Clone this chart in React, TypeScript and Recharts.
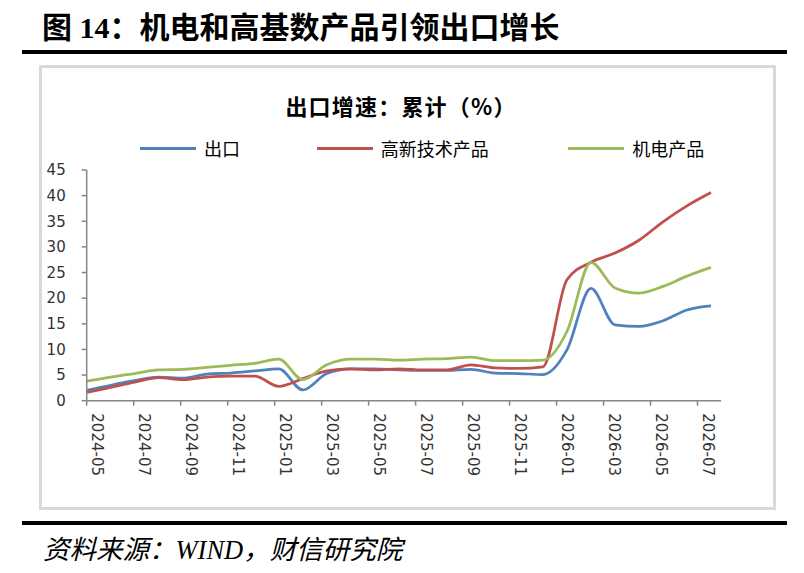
import React from 'react';
import { LineChart, Line, XAxis, YAxis, Legend } from 'recharts';

const months = [
  '2024-05', '2024-06', '2024-07', '2024-08', '2024-09', '2024-10', '2024-11', '2024-12',
  '2025-01', '2025-02', '2025-03', '2025-04', '2025-05', '2025-06', '2025-07', '2025-08',
  '2025-09', '2025-10', '2025-11', '2025-12', '2026-01', '2026-02', '2026-03', '2026-04',
  '2026-05', '2026-06', '2026-07',
];

const tickLabels = [
  '2024-05', '2024-07', '2024-09', '2024-11', '2025-01', '2025-03', '2025-05',
  '2025-07', '2025-09', '2025-11', '2026-01', '2026-03', '2026-05', '2026-07',
];
const tickIndex = [0, 2, 4, 6, 8, 10, 12, 14, 16, 18, 20, 22, 24, 26];

const yTicks = [0, 5, 10, 15, 20, 25, 30, 35, 40, 45];

// 出口
const exportsTotal = [2.0, 3.0, 3.9, 4.6, 4.4, 5.2, 5.4, 5.8, 6.2, 2.1, 5.3, 6.2, 6.2, 6.0, 5.9, 5.9, 6.1, 5.4, 5.3, 5.1, 9.9, 21.9, 14.8, 14.5, 15.6, 17.7, 18.5];
// 高新技术产品
const highTech = [1.6, 2.6, 3.6, 4.5, 4.1, 4.6, 4.8, 4.8, 2.8, 4.3, 5.8, 6.2, 6.0, 6.2, 6.0, 6.0, 7.0, 6.4, 6.3, 6.6, 23.6, 27.0, 28.8, 31.3, 34.9, 38.0, 40.6];
// 机电产品
const mechElec = [3.8, 4.6, 5.3, 6.0, 6.1, 6.5, 6.9, 7.3, 8.1, 4.1, 7.0, 8.1, 8.1, 7.9, 8.1, 8.2, 8.5, 7.8, 7.8, 7.9, 13.5, 27.0, 22.0, 21.0, 22.3, 24.3, 26.0];

const seriesNames = ['出口', '高新技术产品', '机电产品'];
const seriesColors = ['#4F81BD', '#C0504D', '#9BBB59'];
const legendLeft = [140, 316.7, 568.3];

const data = months.map((m, i) => ({
  idx: i,
  month: m,
  exp: exportsTotal[i],
  hi: highTech[i],
  me: mechElec[i],
}));

const axisFont = "'DejaVu Sans', Verdana, sans-serif";
const cjkSans = "'Noto Sans CJK SC', 'Noto Sans', sans-serif";

const XTick = (props: any) => {
  const { x, y, payload } = props;
  const k = tickIndex.indexOf(payload.value);
  const label = k >= 0 ? tickLabels[k] : '';
  return (
    <g transform={`translate(${x},${y})`}>
      <text
        transform="rotate(90)"
        x={7.6}
        y={-5}
        textAnchor="start"
        fontFamily={axisFont}
        fontSize={15}
        fill="#333"
      >
        {label}
      </text>
    </g>
  );
};

const LegendContent = (props: any) => {
  const payload = props.payload || [];
  return (
    <div style={{ position: 'relative', width: 804, height: 30 }}>
      {payload.map((p: any) => {
        const i = seriesNames.indexOf(p.value);
        return (
          <div
            key={p.value}
            style={{
              position: 'absolute',
              left: legendLeft[i],
              top: 0,
              height: 30,
              display: 'flex',
              alignItems: 'center',
              whiteSpace: 'nowrap',
            }}
          >
            <div style={{ width: 56, height: 3, background: p.color, marginRight: 8 }} />
            <span style={{ fontFamily: cjkSans, fontSize: 18, lineHeight: '30px', color: '#000' }}>
              {p.value}
            </span>
          </div>
        );
      })}
    </div>
  );
};

export default function App() {
  return (
    <div
      style={{
        position: 'absolute',
        left: 0,
        top: 0,
        width: 804,
        height: 573,
        background: '#fff',
        overflow: 'hidden',
      }}
    >
      <div
        style={{
          position: 'absolute',
          left: 42,
          top: 7.5,
          height: 40,
          lineHeight: '40px',
          fontSize: 30,
          fontWeight: 'bold',
          fontFamily: "'Liberation Serif', 'Noto Sans CJK SC', serif",
          whiteSpace: 'nowrap',
          color: '#000',
        }}
      >
        图 14：机电和高基数产品引领出口增长
      </div>
      <div style={{ position: 'absolute', left: 22, top: 50, width: 765, height: 4, background: '#000' }} />
      <div
        style={{
          position: 'absolute',
          left: 39,
          top: 65,
          width: 737,
          height: 445,
          border: '3px solid #d9d9d9',
          boxSizing: 'border-box',
        }}
      />
      <div
        style={{
          position: 'absolute',
          left: 0,
          width: 802,
          top: 90,
          height: 30,
          lineHeight: '30px',
          textAlign: 'center',
          fontFamily: cjkSans,
          fontWeight: 'bold',
          fontSize: 22,
          letterSpacing: 1.2,
          color: '#000',
          whiteSpace: 'nowrap',
        }}
      >
        出口增速：累计（%）
      </div>
      <div style={{ position: 'absolute', left: 0, top: 0 }}>
        <LineChart
          width={804}
          height={573}
          data={data}
          margin={{ top: 170, right: 83, bottom: 112.3, left: 26.7 }}
        >
          <XAxis
            xAxisId="d"
            dataKey="idx"
            type="number"
            domain={[0, 26]}
            hide
            height={0}
            padding={{ left: 0, right: 10 }}
          />
          <XAxis
            xAxisId="t"
            dataKey="idx"
            type="number"
            domain={[0, 26]}
            padding={{ left: 0, right: 23.5 }}
            ticks={tickIndex}
            interval={0}
            height={60}
            tickSize={5}
            tickMargin={0}
            tick={<XTick />}
            axisLine={{ stroke: '#868686', strokeWidth: 1.5 }}
            tickLine={{ stroke: '#868686', strokeWidth: 1.5 }}
          />
          <YAxis
            type="number"
            domain={[0, 45]}
            ticks={yTicks}
            interval={0}
            width={60}
            tickSize={5}
            tickMargin={16}
            tick={{ fontFamily: axisFont, fontSize: 15, fill: '#333' }}
            axisLine={{ stroke: '#868686', strokeWidth: 1.5 }}
            tickLine={{ stroke: '#868686', strokeWidth: 1.5 }}
          />
          <Legend
            layout="horizontal"
            verticalAlign="middle"
            align="center"
            content={<LegendContent />}
            wrapperStyle={{ position: 'absolute', left: 0, top: 133, width: 804, height: 30 }}
          />
          <Line
            xAxisId="d"
            type="monotone"
            dataKey="exp"
            name={seriesNames[0]}
            stroke={seriesColors[0]}
            strokeWidth={2.75}
            dot={false}
            activeDot={false}
            isAnimationActive={false}
          />
          <Line
            xAxisId="d"
            type="monotone"
            dataKey="hi"
            name={seriesNames[1]}
            stroke={seriesColors[1]}
            strokeWidth={2.75}
            dot={false}
            activeDot={false}
            isAnimationActive={false}
          />
          <Line
            xAxisId="d"
            type="monotone"
            dataKey="me"
            name={seriesNames[2]}
            stroke={seriesColors[2]}
            strokeWidth={2.75}
            dot={false}
            activeDot={false}
            isAnimationActive={false}
          />
        </LineChart>
      </div>
      <div style={{ position: 'absolute', left: 22, top: 521, width: 765, height: 4, background: '#000' }} />
      <div
        style={{
          position: 'absolute',
          left: 43,
          top: 533,
          height: 34,
          lineHeight: '34px',
          fontSize: 26.5,
          fontStyle: 'italic',
          fontFamily: "'Liberation Serif', 'Noto Sans CJK SC', serif",
          whiteSpace: 'nowrap',
          color: '#000',
        }}
      >
        资料来源：WIND，财信研究院
      </div>
    </div>
  );
}
